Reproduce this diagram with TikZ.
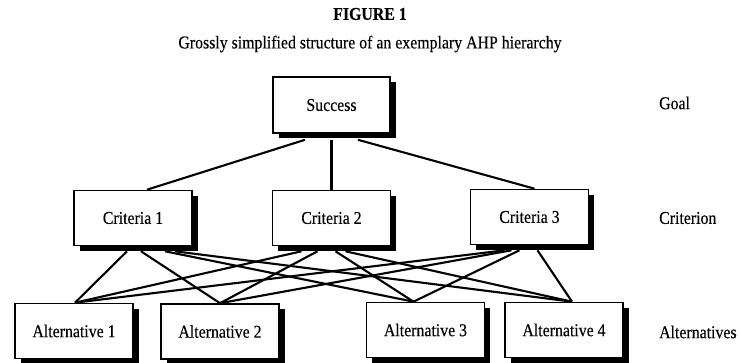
\documentclass[tikz,border=0pt]{standalone}
\usepackage{fontspec}
\setmainfont{Liberation Serif}[FakeStretch=0.88,FakeBold=0.3]
\usetikzlibrary{shadows}
\begin{document}
\begin{tikzpicture}[x=1pt,y=-1pt,
  box/.style={draw=black, line width=1.6pt, fill=white,
    minimum width=118pt, minimum height=55pt, inner sep=0pt,
    font=\fontsize{18}{21}\selectfont,
    drop shadow={shadow xshift=5.5pt, shadow yshift=-5.5pt, fill=black, opacity=1}},
  link/.style={line width=2.1pt, draw=black},
  lvl/.style={anchor=west, inner sep=0pt, font=\fontsize{18}{21}\selectfont},
  ttl/.style={inner sep=0pt, font=\fontsize{18}{21}\selectfont\bfseries},
  sub/.style={inner sep=0pt, font=\fontsize{18}{21}\selectfont}]
\useasboundingbox (0,0) rectangle (740,363);

\node[ttl] (title) at (370,14) {FIGURE 1};
\node[sub] (subtitle) at (370,44) {Grossly simplified structure of an exemplary AHP hierarchy};

\node[box, minimum width=117pt, minimum height=56pt] (S) at (331.5,105) {Success};

\node[box] (C1) at (133,218) {Criteria 1};
\node[box] (C2) at (331.5,218) {Criteria 2};
\node[box] (C3) at (529.5,217) {Criteria 3};

\node[box] (A1) at (74,331) {Alternative 1};
\node[box] (A2) at (220,331.5) {Alternative 2};
\node[box] (A3) at (425.5,330) {Alternative 3};
\node[box] (A4) at (564,330) {Alternative 4};

\node[lvl] (goal) at (659,103) {Goal};
\node[lvl] (crit) at (659,218) {Criterion};
\node[lvl] (alts) at (659,332) {Alternatives};

% goal to criteria
\draw[link] ([xshift=-26.5pt,yshift=-6pt]S.south) -- ([xshift=14pt]C1.north);
\draw[link] ([yshift=-6pt]S.south) -- (C2.north);
\draw[link] ([xshift=26.5pt,yshift=-6pt]S.south) -- ([xshift=5pt]C3.north);

% criteria to alternatives
\draw[link] ([xshift=-6pt,yshift=-5pt]C1.south) -- ([xshift=1pt]A1.north);
\draw[link] ([xshift=8pt,yshift=-5pt]C1.south) -- (A2.north);
\draw[link] ([xshift=32pt,yshift=-5pt]C1.south) -- ([xshift=-12pt]A3.north);
\draw[link] ([xshift=42pt,yshift=-5pt]C1.south) -- ([xshift=8pt]A4.north);

\draw[link] ([xshift=-30pt,yshift=-5pt]C2.south) -- ([xshift=1pt]A1.north);
\draw[link] ([xshift=-14pt,yshift=-5pt]C2.south) -- (A2.north);
\draw[link] ([xshift=4pt,yshift=-5pt]C2.south) -- ([xshift=-12pt]A3.north);
\draw[link] ([xshift=14pt,yshift=-5pt]C2.south) -- ([xshift=8pt]A4.north);

\draw[link] ([xshift=-25pt,yshift=-5pt]C3.south) -- ([xshift=1pt]A1.north);
\draw[link] ([xshift=-18pt,yshift=-5pt]C3.south) -- (A2.north);
\draw[link] ([xshift=-10pt,yshift=-5pt]C3.south) -- ([xshift=-12pt]A3.north);
\draw[link] ([xshift=8pt,yshift=-5pt]C3.south) -- ([xshift=8pt]A4.north);
\end{tikzpicture}
\end{document}
